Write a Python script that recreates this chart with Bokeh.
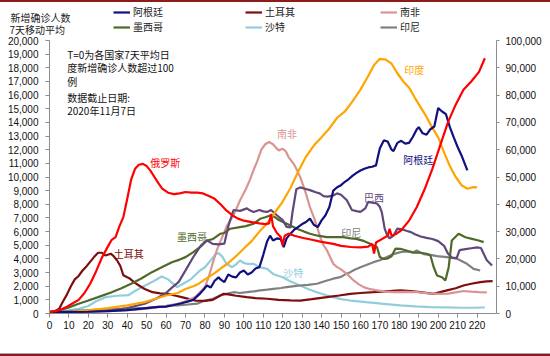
from bokeh.plotting import figure
from bokeh.models import (Range1d, LinearAxis, FixedTicker, NumeralTickFormatter,
                          Label, Legend, LegendItem, Div)
from bokeh.layouts import column
from bokeh.embed import file_html
from bokeh.resources import INLINE

# ---------------- data (days since 7-day avg > 100, 7-day avg new cases) ----------------
RUS_DAYS = [0, 3, 6, 9, 12, 15, 18, 21, 24, 27, 30, 32, 34, 36, 38, 40, 42, 44, 46, 48, 50, 52, 54, 56, 58,
            61, 64, 67, 70, 73, 76, 79, 82, 85, 88, 91, 94, 97, 100, 104, 108, 111, 113, 114, 115, 117,
            119, 120, 121, 123, 126, 130, 135, 140, 146, 150, 155, 160, 164, 166, 167, 168, 171, 174,
            175, 176, 178, 181, 185, 189, 193, 197, 201, 205, 209, 213, 217, 221, 224]
RUS_CASES = [100, 170, 300, 500, 750, 1000, 1500, 2200, 3100, 4100, 4900, 5400, 5600, 6400, 7060, 8400,
             9800, 10600, 10900, 10960, 10800, 10450, 10000, 9550, 9150, 8850, 8750, 8800, 8900, 8850,
             8850, 8800, 8600, 8400, 8000, 7550, 7200, 6950, 6800, 6700, 6600, 6550, 6600, 7300, 6400,
             5900, 5600, 5000, 5700, 5850, 5700, 5550, 5400, 5250, 5100, 4950, 4870, 4850, 4900, 5100,
             4400, 5200, 5450, 5700, 6200, 5700, 5800, 6100, 6800, 7800, 9100, 10600, 12300, 14000,
             15300, 16400, 17000, 17700, 18700]

IND_DAYS = [0, 10, 20, 30, 40, 49, 55, 60, 66, 70, 74, 77, 80, 85, 88, 92, 96, 100, 104, 108, 112, 116,
            120, 124, 128, 132, 136, 140, 144, 148, 152, 156, 160, 164, 167, 170, 173, 176, 179, 182,
            185, 188, 191, 194, 197, 200, 203, 206, 209, 212, 215, 218, 220]
IND_CASES = [100, 500, 1200, 2000, 3000, 4150, 5500, 6600, 7500, 9000, 10000, 11000, 12500, 14800, 16400,
             18500, 21000, 23800, 26500, 30000, 33000, 37000, 41000, 46000, 52000, 57500, 61500, 64600,
             67800, 71700, 74000, 77800, 82000, 87000, 91000, 93300, 93000, 91500, 88000, 85000, 82800,
             79000, 75500, 72000, 68000, 64500, 59000, 54000, 50000, 47000, 45700, 46300, 46200]

ARG_DAYS = [0, 10, 20, 30, 40, 50, 56, 60, 64, 68, 71, 74, 77, 79, 81, 83, 85, 87, 88, 90, 92, 94, 96, 98,
            100, 102, 104, 106, 108, 110, 112, 113.5, 115, 117, 119, 120.5, 122, 124, 126, 128, 130, 132,
            134, 136, 138, 140, 142, 144, 146, 148, 150, 152, 154, 156, 158, 160, 162, 164, 166, 168, 169,
            170, 172, 174, 176, 177, 179, 181, 183, 185, 187, 189, 190, 192, 194, 196, 198, 200, 202, 204,
            206, 208, 210, 212, 215]
ARG_CASES = [100, 110, 130, 170, 250, 400, 480, 500, 620, 750, 870, 1000, 1400, 1700, 2050, 1900, 2400,
             2650, 2500, 2300, 2850, 2700, 2650, 3000, 3150, 2850, 3000, 3300, 3400, 4300, 5300, 5700,
             5350, 5500, 5450, 4860, 5500, 5850, 6150, 6350, 6550, 6700, 6950, 6500, 6330, 6820, 7200,
             7800, 9000, 9250, 9400, 9650, 9850, 10100, 10300, 10480, 10600, 10700, 10750, 10850, 11500,
             12100, 12680, 12600, 12000, 11900, 12500, 12650, 12450, 12500, 12950, 13500, 13650, 13200,
             13100, 13500, 13700, 15050, 14800, 14600, 13650, 12900, 12200, 11580, 10480]

BRA_DAYS = [0, 10, 20, 32, 40, 49, 55, 59.5, 63, 66.4, 70, 74, 78, 81, 84, 87, 90, 92, 94.7, 98, 101.6,
            103, 105, 108, 110, 112, 114, 117, 120, 122, 124, 125, 127, 129, 131, 134, 137, 139, 141, 143,
            146, 148, 150, 153, 155.6, 158, 160, 162.5, 164, 166, 168.5, 170, 171, 172.5, 173.6, 175, 177,
            179, 182, 184, 186, 188, 191, 194, 197, 200, 203, 205, 207, 209.5, 211, 214, 217, 220, 222,
            225, 227.7]
BRA_CASES = [200, 500, 800, 1100, 2000, 3570, 5500, 7240, 9500, 11500, 15800, 20700, 25000, 26800, 25500,
             25300, 25600, 32000, 37900, 37600, 38500, 37800, 37200, 37900, 37400, 37200, 37900, 36000,
             34200, 31700, 31500, 37000, 45500, 46200, 45800, 45200, 44400, 44000, 43000, 42800, 43200,
             44000, 43500, 41500, 37900, 37500, 37200, 38500, 40900, 40600, 40300, 39000, 37000, 31000,
             29000, 27500, 28500, 31100, 30700, 30200, 29800, 29000, 28200, 27700, 27300, 26500, 24800,
             22000, 20500, 20300, 23200, 23600, 23900, 24200, 24000, 19500, 17600]

MEX_DAYS = [0, 5, 10, 15, 20, 25, 32, 37, 42, 47, 52.7, 58, 63, 67, 70, 74, 78.4, 81, 84, 87.8, 90, 93,
            98, 101, 105, 108.4, 111, 113.6, 116, 118, 120.4, 124, 127.3, 131, 134, 138, 142.8, 147, 151,
            155, 158, 162, 165, 168.5, 170, 172, 173.6, 176, 178, 180.5, 184, 187, 190.8, 194, 196, 197.7,
            199.4, 202, 203.7, 205.4, 207, 210.5, 214, 217.4, 220.8, 223.4]
MEX_CASES = [100, 250, 450, 710, 950, 1200, 1560, 1850, 2180, 2550, 3030, 3400, 3760, 3950, 4130, 4500,
             4980, 5350, 5450, 5840, 5900, 6210, 6330, 6400, 6570, 6940, 7050, 7180, 7060, 6850, 6690,
             6450, 6210, 6000, 5840, 5700, 5590, 5600, 5590, 5500, 5470, 5300, 5110, 4860, 4130, 4000,
             4010, 4200, 4750, 4740, 4600, 4450, 4450, 4380, 4250, 3390, 2790, 2660, 2420, 3390, 5350,
             5840, 5590, 5470, 5350, 5230]

SAU_DAYS = [0, 8, 15, 20, 24, 29, 35, 40.7, 44, 47.5, 52.7, 57.8, 61, 65.6, 69, 73, 77, 80, 83, 85.5, 87,
            89, 91, 94, 96, 98, 100, 102, 105, 108, 112, 115, 118, 120, 124, 129, 133, 137.6, 142, 146,
            150, 154.8, 163, 171.9, 180.5, 188, 196, 204, 212, 218, 224]
SAU_CASES = [100, 200, 340, 550, 900, 1200, 1300, 1350, 1650, 1930, 2300, 2710, 2500, 1930, 2200, 2540,
             3100, 3390, 3900, 4350, 4420, 4150, 3640, 3390, 3600, 3880, 3700, 3640, 3640, 3400, 3270,
             2900, 2750, 2660, 2350, 2050, 1800, 1560, 1350, 1200, 1050, 950, 830, 710, 590, 520, 470,
             450, 420, 420, 440]

ZAF_DAYS = [0, 15, 30, 40, 49, 55, 60, 66, 70, 75, 78, 80, 82, 84, 86, 88, 91, 95, 98, 101, 103, 105, 107,
            109, 111, 113, 115, 116.5, 118, 120, 121.5, 123, 125.6, 127, 129, 131, 132.5, 134, 136, 138,
            139.3, 141, 142.8, 144.5, 146, 148, 149.6, 153, 156.5, 159, 161.6, 165, 168.5, 173, 177, 183,
            189, 195, 200, 205, 209, 213, 217, 221, 225]
ZAF_CASES = [100, 110, 170, 250, 340, 450, 560, 710, 900, 1200, 1650, 1950, 2700, 3700, 4600, 5300, 6330,
             7300, 8280, 9100, 9750, 10500, 11200, 12000, 12400, 12560, 12400, 12150, 11950, 12070, 11900,
             11460, 10970, 10600, 9990, 9200, 8520, 7800, 7060, 6200, 5590, 5000, 4620, 4100, 3640, 3400,
             3270, 2900, 2420, 2150, 1930, 1780, 1690, 1600, 1560, 1580, 1560, 1470, 1440, 1450, 1550,
             1650, 1600, 1560, 1550]

TUR_DAYS = [0, 3, 5, 7, 9, 11, 13, 15, 17, 19, 21, 23, 25, 27, 28.7, 30, 31.5, 33, 34.7, 36.4, 38, 40,
            41.5, 44, 46, 49, 53, 57, 61, 65, 68, 72, 75, 80, 84, 87, 89.6, 92, 96, 101.6, 106, 112, 118,
            124, 129, 135, 142.8, 149, 154.8, 160, 166.7, 173, 180.5, 186, 190.8, 197.6, 204.5, 209, 213,
            217, 221.6, 225, 228]
TUR_CASES = [100, 180, 350, 900, 1400, 2000, 2500, 2750, 3150, 3450, 3800, 4150, 4450, 4450, 4250, 4300,
             4380, 4200, 3900, 3500, 2800, 2650, 2540, 2250, 2050, 1800, 1560, 1480, 1440, 1300, 1200,
             1050, 950, 930, 1000, 1250, 1440, 1400, 1300, 1200, 1130, 1080, 1000, 960, 950, 1050, 1200,
             1320, 1440, 1500, 1560, 1620, 1690, 1640, 1560, 1440, 1690, 1850, 2050, 2180, 2300, 2350,
             2370]

IDN_DAYS = [0, 10, 20, 30, 40, 50, 58, 63, 66, 70, 76, 80, 84, 88, 91, 94.7, 98, 101.6, 105, 108.4, 112,
            115.3, 119, 122, 126, 129, 133, 137.6, 142.8, 146, 149.6, 152, 154.8, 157, 160, 163, 166.7,
            170, 173.6, 177, 180.5, 184, 187.4, 189, 192.5, 196, 199.4, 204.5, 209.7, 212, 214.8, 218.2,
            221.6]
IDN_CASES = [100, 180, 250, 300, 350, 420, 500, 590, 590, 640, 720, 950, 1080, 1320, 1450, 1560, 1500,
             1560, 1620, 1690, 1750, 1810, 1870, 1930, 2000, 2050, 2100, 2180, 2420, 2550, 2660, 2850,
             3030, 3200, 3390, 3550, 3760, 3900, 4130, 4350, 4500, 4550, 4500, 4620, 4350, 4300, 4200,
             4130, 4010, 3850, 3640, 3270, 3150]

X_TICKS = list(range(0, 221, 10))
Y_LEFT_TICKS = list(range(0, 20001, 1000))
Y_RIGHT_TICKS = list(range(0, 100001, 10000))

# ---------------- geometry: the frame fills the whole canvas ----------------
W, H = 550, 351
PX_L, PX_R = 49.0, 496.0          # x pixel of day 0 and day 230
PY_T, PY_B = 38.0, 311.0          # y pixel of the 20,000 and 0 lines
X_MAX, YL_MAX, YR_MAX = 230, 20000, 100000
kx = (PX_R - PX_L) / X_MAX
kyl = (PY_B - PY_T) / YL_MAX
kyr = (PY_B - PY_T) / YR_MAX

p = figure(width=W, height=H,
           x_range=Range1d(-PX_L / kx, X_MAX + (W - PX_R) / kx),
           y_range=Range1d(-(H - PY_B) / kyl, YL_MAX + PY_T / kyl),
           x_axis_location=None, y_axis_location=None,
           output_backend="svg", toolbar_location=None,
           min_border_left=0, min_border_right=0, min_border_top=0, min_border_bottom=0)
p.extra_y_ranges = {"right": Range1d(-(H - PY_B) / kyr, YR_MAX + PY_T / kyr)}
p.xgrid.visible = False
p.ygrid.visible = False
p.outline_line_color = None
p.background_fill_color = "white"
p.border_fill_color = "white"

AX_COL = "#8c8c8c"
TICK_FONT = "Liberation Sans"
CJK = "Noto Sans CJK SC"


def style_axis(ax):
    ax.axis_line_color = AX_COL
    ax.major_tick_line_color = AX_COL
    ax.minor_tick_line_color = None
    ax.major_tick_out = 4
    ax.major_tick_in = 0
    ax.major_label_text_font = TICK_FONT
    ax.major_label_text_font_size = "10px"
    ax.major_label_text_color = "#111111"


xa = LinearAxis(ticker=FixedTicker(ticks=X_TICKS), fixed_location=0, bounds=(0, X_MAX))
style_axis(xa)
xa.major_label_standoff = 3
p.add_layout(xa, "below")

la = LinearAxis(ticker=FixedTicker(ticks=Y_LEFT_TICKS), formatter=NumeralTickFormatter(format="0,0"),
                fixed_location=0, bounds=(0, YL_MAX))
style_axis(la)
la.major_label_standoff = 7
p.add_layout(la, "left")

ra = LinearAxis(y_range_name="right", ticker=FixedTicker(ticks=Y_RIGHT_TICKS),
                formatter=NumeralTickFormatter(format="0,0"), fixed_location=X_MAX, bounds=(0, YR_MAX))
style_axis(ra)
ra.major_tick_out = 3
ra.major_label_standoff = 6
p.add_layout(ra, "right")

C_ARG = "#10107f"
C_TUR = "#7f0d0d"
C_ZAF = "#d99594"
C_MEX = "#4f6a28"
C_SAU = "#92cddc"
C_IDN = "#808080"
C_RUS = "#ff0000"
C_IND = "#ffa500"
C_BRA = "#60497a"
LW = 2.2

r_sau = p.line(SAU_DAYS, SAU_CASES, line_color=C_SAU, line_width=LW)
r_idn = p.line(IDN_DAYS, IDN_CASES, line_color=C_IDN, line_width=LW)
r_tur = p.line(TUR_DAYS, TUR_CASES, line_color=C_TUR, line_width=LW)
r_zaf = p.line(ZAF_DAYS, ZAF_CASES, line_color=C_ZAF, line_width=LW)
r_mex = p.line(MEX_DAYS, MEX_CASES, line_color=C_MEX, line_width=LW)
r_bra = p.line(BRA_DAYS, BRA_CASES, line_color=C_BRA, line_width=LW, y_range_name="right")
r_ind = p.line(IND_DAYS, IND_CASES, line_color=C_IND, line_width=LW, y_range_name="right")
r_arg = p.line(ARG_DAYS, ARG_CASES, line_color=C_ARG, line_width=LW)
r_rus = p.line(RUS_DAYS, RUS_CASES, line_color=C_RUS, line_width=LW)

# ---------------- legends (three columns of two) ----------------
for items, vx in (([("阿根廷", r_arg), ("墨西哥", r_mex)], 113),
                  ([("土耳其", r_tur), ("沙特", r_sau)], 245),
                  ([("南非", r_zaf), ("印尼", r_idn)], 380)):
    lg = Legend(items=[LegendItem(label=t, renderers=[r]) for t, r in items],
                location=(vx, H - 4 - 28), orientation="vertical",
                glyph_width=17, glyph_height=14, label_height=14, label_standoff=3,
                padding=0, margin=0, spacing=0, border_line_color=None,
                background_fill_alpha=0, label_text_font=CJK, label_text_font_size="10px",
                label_text_color="#222222")
    p.add_layout(lg, "center")

# ---------------- texts ----------------
def add_text(x, y, text, color, align="center"):
    p.add_layout(Label(x=x, y=y, text=text, text_font=CJK, text_font_size="10px",
                       text_color=color, text_align=align, text_baseline="middle"))


add_text(-20.1, 21710, "新增确诊人数", "#222222", "left")
add_text(-20.6, 20780, "7天移动平均", "#222222", "left")
add_text(9.1, 18985, "T=0为各国家7天平均日", "#111111", "left")
add_text(9.1, 18054, "度新增确诊人数超过100", "#111111", "left")
add_text(9.1, 17028, "例", "#111111", "left")
add_text(9.1, 15811, "数据截止日期:", "#111111", "left")
add_text(9.1, 14880, "2020年11月7日", "#111111", "left")

add_text(59.5, 11070, "俄罗斯", C_RUS)
add_text(40.8, 4400, "土耳其", C_TUR)
add_text(73.3, 5640, "墨西哥", C_MEX)
add_text(122.2, 13190, "南非", C_ZAF)
add_text(189.8, 11290, "阿根廷", C_ARG)
add_text(167.0, 8500, "巴西", C_BRA)
add_text(155.3, 5940, "印尼", C_IDN)
add_text(125.4, 2970, "沙特", C_SAU)
add_text(187.7, 17890, "印度", C_IND)

# ---------------- page frame lines ----------------
top_bar = Div(text="", width=550, height=2, margin=(0, 0, 0, 0),
              styles={"background-color": "#8c1b1b"})
grey_bar = Div(text="", width=550, height=1, margin=(0, 0, 0, 0),
               styles={"background-color": "#a6a6a6"})
bot_bar = Div(text="", width=550, height=2, margin=(0, 0, 0, 0),
              styles={"background-color": "#8c1b1b"})
layout = column(top_bar, p, grey_bar, bot_bar, spacing=0)

open("out.html", "w").write(file_html(layout, INLINE))
